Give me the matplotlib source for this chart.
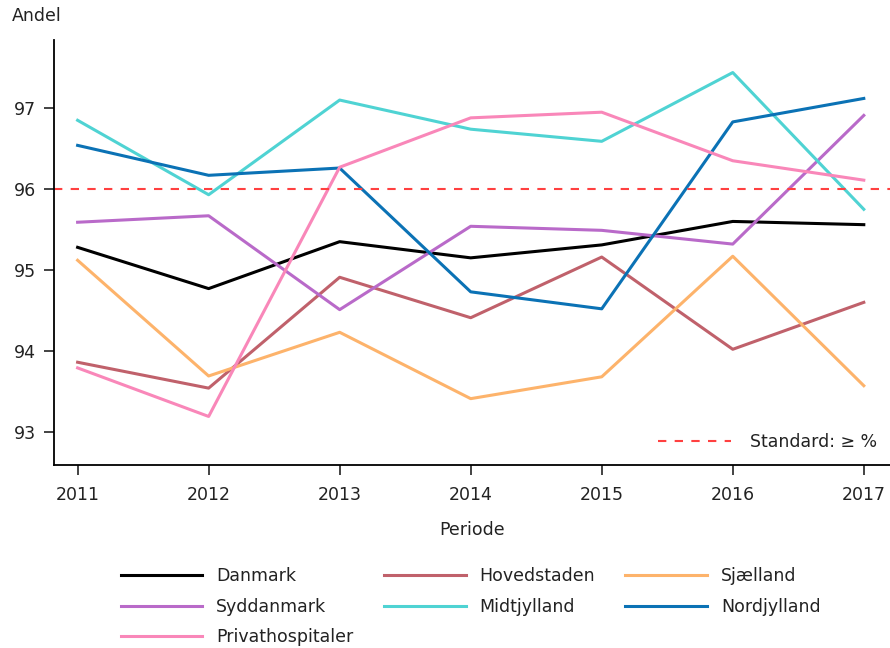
import matplotlib.pyplot as plt
import numpy as np

# data
years = [2011, 2012, 2013, 2014, 2015, 2016, 2017]
danmark = [95.28, 94.77, 95.35, 95.15, 95.31, 95.60, 95.56]
hovedstaden = [93.86, 93.54, 94.91, 94.41, 95.16, 94.02, 94.60]
sjaelland = [95.12, 93.69, 94.23, 93.41, 93.68, 95.17, 93.57]
syddanmark = [95.59, 95.67, 94.51, 95.54, 95.49, 95.32, 96.91]
midtjylland = [96.85, 95.93, 97.10, 96.74, 96.59, 97.44, 95.75]
nordjylland = [96.54, 96.17, 96.26, 94.73, 94.52, 96.83, 97.12]
privat = [93.79, 93.19, 96.27, 96.88, 96.95, 96.35, 96.11]
standard = 96

series = [
    ('Danmark', danmark, '#000000'),
    ('Hovedstaden', hovedstaden, '#c0616b'),
    ('Sjælland', sjaelland, '#fdb36b'),
    ('Syddanmark', syddanmark, '#b96ac9'),
    ('Midtjylland', midtjylland, '#4fd3d3'),
    ('Nordjylland', nordjylland, '#0b72b5'),
    ('Privathospitaler', privat, '#f987b9'),
]

fig = plt.figure(figsize=(8.9, 6.48), dpi=100)
ax = fig.add_axes([0.0607, 0.2824, 0.9393, 0.6556])

handles = {}
for name, vals, col in series:
    h, = ax.plot(years, vals, color=col, linewidth=2.2, label=name)
    handles[name] = h

std = ax.axhline(standard, color='#ff4040', linestyle=(0, (4, 4)), linewidth=1.5,
                 label='Standard: \u2265 %')

ax.set_xlim(2010.82, 2017.2)
ax.set_ylim(92.59, 97.84)
ax.set_xticks(years)
ax.set_yticks([93, 94, 95, 96, 97])
ax.tick_params(direction='out', length=7, width=1.2, labelsize=12.5, colors='#222222')
ax.tick_params(axis='x', pad=8)
ax.tick_params(axis='y', pad=6)
for s in ['top', 'right']:
    ax.spines[s].set_visible(False)
for s in ['left', 'bottom']:
    ax.spines[s].set_linewidth(1.3)

ax.set_xlabel('Periode', fontsize=12.5, color='#222222', labelpad=12)
fig.text(0.013, 0.975, 'Andel', fontsize=12.5, color='#222222', va='center')

leg1 = ax.legend(handles=[std], loc='lower right', frameon=False,
                 prop={'size': 12.5}, handlelength=4.2, handletextpad=1.1,
                 borderaxespad=0.6, bbox_to_anchor=(1.005, -0.007))
for t in leg1.get_texts():
    t.set_color('#222222')

# matplotlib fills legend columns first, so reorder to get row-wise reading
order = ['Danmark', 'Syddanmark', 'Privathospitaler', 'Hovedstaden',
         'Midtjylland', 'Sjælland', 'Nordjylland']
leg2 = fig.legend(handles=[handles[k] for k in order], loc='upper left',
                  bbox_to_anchor=(0.128, 0.135), ncol=3, frameon=False,
                  prop={'size': 12.5}, handlelength=4.7, handletextpad=0.8,
                  columnspacing=1.75, labelspacing=0.72, borderaxespad=0)
for t in leg2.get_texts():
    t.set_color('#222222')

fig.savefig('out.png', dpi=100)
